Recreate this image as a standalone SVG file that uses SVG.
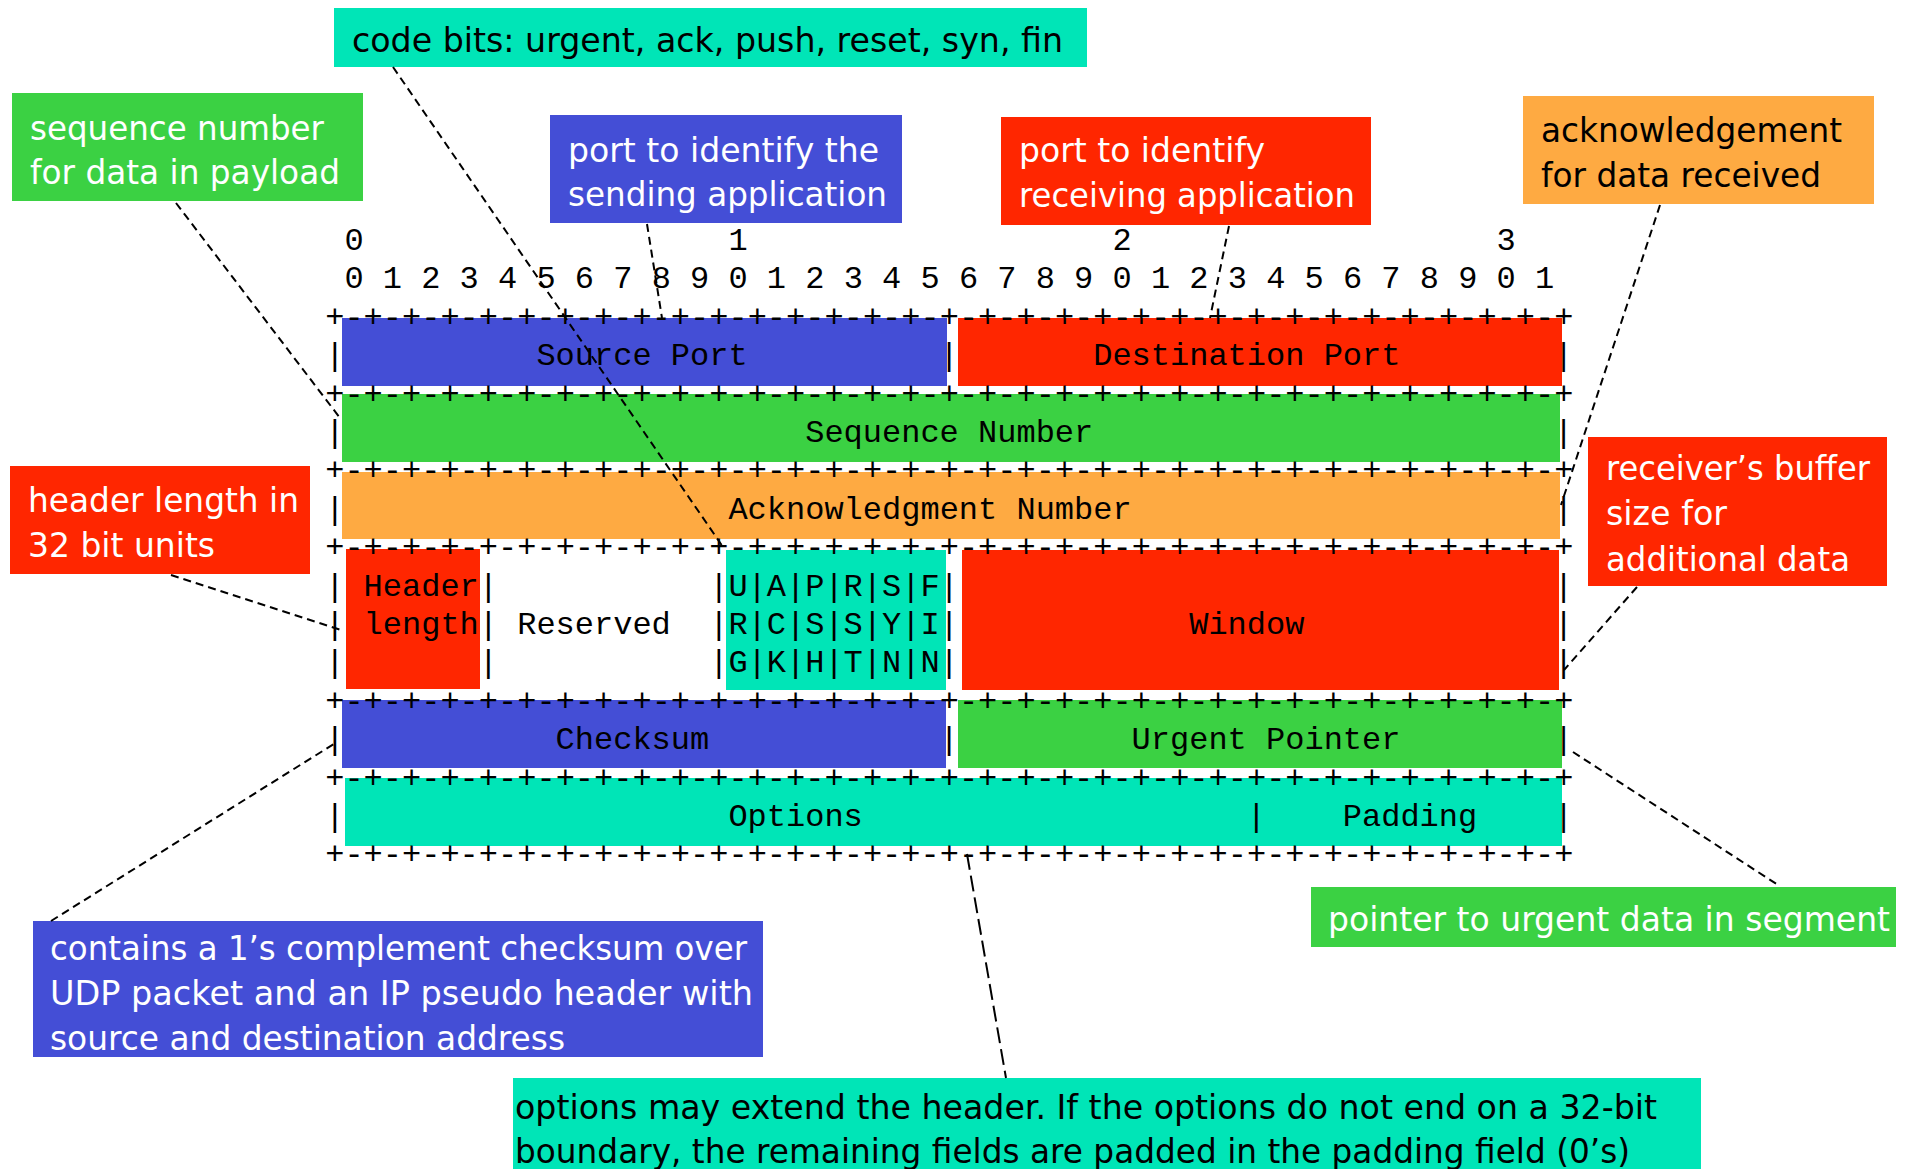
<svg xmlns="http://www.w3.org/2000/svg" width="1908" height="1169" viewBox="0 0 1908 1169">
<style>
.mono{font-family:"Liberation Mono","Courier New",monospace;font-size:32px;fill:#000}
.call{font-family:"DejaVu Sans",Verdana,sans-serif;font-size:33px}
.w{fill:#fff}
.k{fill:#000}
.blue{fill:#444ed6}
.red{fill:#ff2600}
.green{fill:#3bd143}
.orange{fill:#feaa42}
.teal{fill:#00e5b7}
.conn line{stroke:#000;stroke-width:2;stroke-dasharray:8 5;fill:none}
</style>
<rect width="1908" height="1169" fill="#fff"/>

<!-- field boxes -->
<g id="field-source-port"><rect class="blue" x="342" y="318" width="605" height="68"/><text class="mono" x="536.4" y="365.2">Source Port</text></g>
<g id="field-destination-port"><rect class="red" x="958" y="318" width="604" height="68"/><text class="mono" x="1093.2" y="365.2">Destination Port</text></g>
<g id="field-sequence-number"><rect class="green" x="342" y="394" width="1218" height="68"/><text class="mono" x="805.2" y="442">Sequence Number</text></g>
<g id="field-ack-number"><rect class="orange" x="342" y="472" width="1218" height="67"/><text class="mono" x="728.4" y="518.8">Acknowledgment Number</text></g>
<g id="field-header-length"><rect class="red" x="346" y="549" width="134" height="140"/><text class="mono" x="363.6" y="595.6">Header</text><text class="mono" x="363.6" y="634">length</text></g>
<g id="field-reserved"><text class="mono" x="517.2" y="634">Reserved</text></g>
<g id="field-flags"><rect class="teal" x="726" y="550" width="220" height="140"/><text class="mono" x="728.4" y="595.6">U|A|P|R|S|F</text><text class="mono" x="728.4" y="634">R|C|S|S|Y|I</text><text class="mono" x="728.4" y="672.4">G|K|H|T|N|N</text></g>
<g id="field-window"><rect class="red" x="962" y="550" width="597" height="140"/><text class="mono" x="1189.2" y="634">Window</text></g>
<g id="field-checksum"><rect class="blue" x="342" y="700" width="604" height="68"/><text class="mono" x="555.6" y="749.2">Checksum</text></g>
<g id="field-urgent-pointer"><rect class="green" x="958" y="700" width="604" height="68"/><text class="mono" x="1131.6" y="749.2">Urgent Pointer</text></g>
<g id="field-options"><rect class="teal" x="345" y="778" width="1217" height="68"/><text class="mono" x="728.4" y="826">Options</text></g>
<g id="field-padding"><text class="mono" x="1342.8" y="826">Padding</text></g>

<!-- ASCII frame -->
<g id="frame" class="mono">
<text x="344.4" y="250">0</text><text x="728.4" y="250">1</text><text x="1112.4" y="250">2</text><text x="1496.4" y="250">3</text>
<text x="344.4" y="288.4">0 1 2 3 4 5 6 7 8 9 0 1 2 3 4 5 6 7 8 9 0 1 2 3 4 5 6 7 8 9 0 1</text>
<text x="325.2" y="326.8">+-+-+-+-+-+-+-+-+-+-+-+-+-+-+-+-+-+-+-+-+-+-+-+-+-+-+-+-+-+-+-+-+</text>
<text x="325.2" y="365.2">|</text><text x="939.6" y="365.2">|</text><text x="1554" y="365.2">|</text>
<text x="325.2" y="403.6">+-+-+-+-+-+-+-+-+-+-+-+-+-+-+-+-+-+-+-+-+-+-+-+-+-+-+-+-+-+-+-+-+</text>
<text x="325.2" y="442">|</text><text x="1554" y="442">|</text>
<text x="325.2" y="480.4">+-+-+-+-+-+-+-+-+-+-+-+-+-+-+-+-+-+-+-+-+-+-+-+-+-+-+-+-+-+-+-+-+</text>
<text x="325.2" y="518.8">|</text><text x="1554" y="518.8">|</text>
<text x="325.2" y="557.2">+-+-+-+-+-+-+-+-+-+-+-+-+-+-+-+-+-+-+-+-+-+-+-+-+-+-+-+-+-+-+-+-+</text>
<text x="325.2" y="595.6">|</text><text x="478.8" y="595.6">|</text><text x="709.2" y="595.6">|</text><text x="939.6" y="595.6">|</text><text x="1554" y="595.6">|</text>
<text x="325.2" y="634">|</text><text x="478.8" y="634">|</text><text x="709.2" y="634">|</text><text x="939.6" y="634">|</text><text x="1554" y="634">|</text>
<text x="325.2" y="672.4">|</text><text x="478.8" y="672.4">|</text><text x="709.2" y="672.4">|</text><text x="939.6" y="672.4">|</text><text x="1554" y="672.4">|</text>
<text x="325.2" y="710.8">+-+-+-+-+-+-+-+-+-+-+-+-+-+-+-+-+-+-+-+-+-+-+-+-+-+-+-+-+-+-+-+-+</text>
<text x="325.2" y="749.2">|</text><text x="939.6" y="749.2">|</text><text x="1554" y="749.2">|</text>
<text x="325.2" y="787.6">+-+-+-+-+-+-+-+-+-+-+-+-+-+-+-+-+-+-+-+-+-+-+-+-+-+-+-+-+-+-+-+-+</text>
<text x="325.2" y="826">|</text><text x="1246.8" y="826">|</text><text x="1554" y="826">|</text>
<text x="325.2" y="864.4">+-+-+-+-+-+-+-+-+-+-+-+-+-+-+-+-+-+-+-+-+-+-+-+-+-+-+-+-+-+-+-+-+</text>
</g>

<!-- callouts -->
<g id="note-code-bits"><rect class="teal" x="334" y="8" width="753" height="59"/><text class="call k" x="352" y="52" textLength="711" lengthAdjust="spacingAndGlyphs">code bits: urgent, ack, push, reset, syn, fin</text></g>
<g id="note-sequence"><rect class="green" x="12" y="93" width="351" height="108"/><text class="call w" x="30" y="140" textLength="294" lengthAdjust="spacingAndGlyphs">sequence number</text><text class="call w" x="30" y="184" textLength="310" lengthAdjust="spacingAndGlyphs">for data in payload</text></g>
<g id="note-source-port"><rect class="blue" x="550" y="115" width="352" height="108"/><text class="call w" x="568" y="162" textLength="311" lengthAdjust="spacingAndGlyphs">port to identify the</text><text class="call w" x="568" y="206" textLength="319" lengthAdjust="spacingAndGlyphs">sending application</text></g>
<g id="note-destination-port"><rect class="red" x="1001" y="117" width="370" height="108"/><text class="call w" x="1019" y="162" textLength="246" lengthAdjust="spacingAndGlyphs">port to identify</text><text class="call w" x="1019" y="207" textLength="336" lengthAdjust="spacingAndGlyphs">receiving application</text></g>
<g id="note-ack"><rect class="orange" x="1523" y="96" width="351" height="108"/><text class="call k" x="1541" y="142" textLength="301" lengthAdjust="spacingAndGlyphs">acknowledgement</text><text class="call k" x="1541" y="187" textLength="280" lengthAdjust="spacingAndGlyphs">for data received</text></g>
<g id="note-window"><rect class="red" x="1588" y="437" width="299" height="149"/><text class="call w" x="1606" y="480" textLength="264" lengthAdjust="spacingAndGlyphs">receiver’s buffer</text><text class="call w" x="1606" y="525" textLength="121" lengthAdjust="spacingAndGlyphs">size for</text><text class="call w" x="1606" y="571" textLength="244" lengthAdjust="spacingAndGlyphs">additional data</text></g>
<g id="note-header-length"><rect class="red" x="10" y="466" width="300" height="108"/><text class="call w" x="28" y="512" textLength="271" lengthAdjust="spacingAndGlyphs">header length in</text><text class="call w" x="28" y="557" textLength="187" lengthAdjust="spacingAndGlyphs">32 bit units</text></g>
<g id="note-urgent"><rect class="green" x="1311" y="887" width="585" height="60"/><text class="call w" x="1328" y="931" textLength="562" lengthAdjust="spacingAndGlyphs">pointer to urgent data in segment</text></g>
<g id="note-checksum"><rect class="blue" x="33" y="921" width="730" height="136"/><text class="call w" x="50" y="960" textLength="697" lengthAdjust="spacingAndGlyphs">contains a 1’s complement checksum over</text><text class="call w" x="50" y="1005" textLength="703" lengthAdjust="spacingAndGlyphs">UDP packet and an IP pseudo header with</text><text class="call w" x="50" y="1050" textLength="515" lengthAdjust="spacingAndGlyphs">source and destination address</text></g>
<g id="note-options"><rect class="teal" x="513" y="1078" width="1188" height="95"/><text class="call k" x="515" y="1119" textLength="1142" lengthAdjust="spacingAndGlyphs">options may extend the header. If the options do not end on a 32-bit</text><text class="call k" x="515" y="1163" textLength="1115" lengthAdjust="spacingAndGlyphs">boundary, the remaining fields are padded in the padding field (0’s)</text></g>

<!-- connectors -->
<g id="connectors" class="conn">
<line x1="393" y1="67" x2="723" y2="547"/>
<line x1="176" y1="203" x2="340" y2="418"/>
<line x1="647" y1="224" x2="662" y2="318"/>
<line x1="1229" y1="226" x2="1210" y2="318"/>
<line x1="1660" y1="205" x2="1561" y2="505"/>
<line x1="1637" y1="587" x2="1564" y2="670"/>
<line x1="171" y1="575" x2="344" y2="631"/>
<line x1="51" y1="921" x2="337" y2="742"/>
<line x1="967" y1="854" x2="1006" y2="1078" style="stroke-dasharray:16 6"/>
<line x1="1573" y1="752" x2="1778" y2="885"/>
</g>
</svg>
